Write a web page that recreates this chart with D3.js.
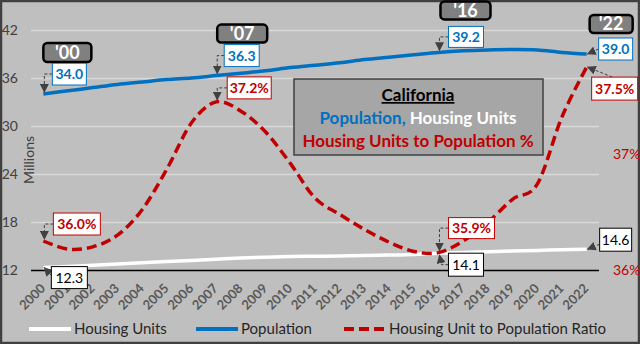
<!DOCTYPE html>
<html>
<head>
<meta charset="utf-8">
<script src="https://cdn.jsdelivr.net/npm/d3@7"></script>
<style>
  html, body { margin: 0; padding: 0; background: #bfbfbf; }
  svg { display: block; font-family: Lato, "Noto Sans", sans-serif; }
</style>
</head>
<body>
<svg id="chart" width="640" height="344"></svg>
<script>
// California: population, housing units (millions) and the housing-units-to-population ratio (%)
const years = [2000, 2001, 2002, 2003, 2004, 2005, 2006, 2007, 2008, 2009, 2010, 2011,
               2012, 2013, 2014, 2015, 2016, 2017, 2018, 2019, 2020, 2021, 2022];
const population = [34.0, 34.4, 34.8, 35.2, 35.5, 35.8, 36.0, 36.3, 36.6, 36.9, 37.3, 37.6,
                    37.9, 38.3, 38.6, 38.9, 39.2, 39.4, 39.5, 39.55, 39.5, 39.2, 39.0];
const housingUnits = [12.3, 12.45, 12.6, 12.75, 12.9, 13.05, 13.2, 13.35, 13.5, 13.6, 13.68, 13.72,
                      13.76, 13.81, 13.87, 13.95, 14.1, 14.2, 14.28, 14.37, 14.45, 14.52, 14.6];
const ratioPct = [36.0, 35.93, 35.95, 36.05, 36.27, 36.62, 37.02, 37.2, 37.12, 36.94, 36.67, 36.37,
                  36.23, 36.1, 35.99, 35.91, 35.9, 36.0, 36.16, 36.36, 36.49, 37.07, 37.5];
const leftTicks = [12, 18, 24, 30, 36, 42];
const rightTicks = [35.75, 36.75];
const labelYears = [2000, 2007, 2016, 2022];
const badgeText = ["'00", "'07", "'16", "'22"];
const seriesNames = ["Housing Units", "Population", "Housing Unit to Population Ratio"];

const C = { pop: "#0070c0", house: "#ffffff", ratio: "#c00000", axis: "#404040", grid: "#d9d9d9" };

const svg = d3.select("#chart");
svg.append("rect").attr("x", 1).attr("y", 1).attr("width", 638).attr("height", 342)
  .attr("fill", "#bfbfbf").attr("stroke", "#404040").attr("stroke-width", 2.5);

const x = d3.scalePoint().domain(years).range([31, 599]).padding(0.5);
const yL = d3.scaleLinear().domain([12, 42]).range([270, 30]);
const yR = d3.scaleLinear().domain([35.75, 37.82]).range([270, 30]);

// gridlines + left axis
const gy = svg.append("g").attr("transform", "translate(31,0)")
  .call(d3.axisLeft(yL).tickValues(leftTicks).tickSize(-568).tickFormat(d => d));
gy.select(".domain").remove();
gy.selectAll(".tick line").attr("stroke", d => d === 12 ? "#000" : C.grid)
  .attr("stroke-width", d => d === 12 ? 1.3 : 1.5);
gy.selectAll(".tick text").attr("x", -13).attr("fill", C.axis)
  .style("font-size", "14px").style("font-family", "Lato, sans-serif");

// right axis (percent)
const gr = svg.append("g").attr("transform", "translate(599,0)")
  .call(d3.axisRight(yR).tickValues(rightTicks).tickSize(0).tickFormat(d => d3.format(".0f")(d) + "%"));
gr.select(".domain").remove();
gr.selectAll(".tick text").attr("x", 14).attr("fill", C.ratio)
  .style("font-size", "14px").style("font-family", "Lato, sans-serif");

// x axis labels
const gx = svg.append("g").attr("transform", "translate(0,270)")
  .call(d3.axisBottom(x).tickSize(0).tickFormat(d => d));
gx.select(".domain").remove();
gx.selectAll(".tick text")
  .attr("text-anchor", "end").attr("fill", "#595959")
  .style("font-size", "13px").style("font-weight", "bold").style("font-family", "Lato, sans-serif")
  .attr("transform", "translate(-1,16) rotate(-45)").attr("dy", "0.35em").attr("y", 0);

// y title
svg.append("text").attr("transform", "translate(34,160) rotate(-90)")
  .attr("text-anchor", "middle").attr("fill", C.axis).style("font-size", "14px").text("Millions");

// series
const curve = d3.curveCardinal.tension(0);
const lineL = vals => d3.line().curve(curve).x((d, i) => x(years[i])).y(d => yL(d))(vals);
const lineR = vals => d3.line().curve(curve).x((d, i) => x(years[i])).y(d => yR(d))(vals);

svg.append("path").attr("d", lineL(housingUnits)).attr("fill", "none")
  .attr("stroke", C.house).attr("stroke-width", 3.5);
svg.append("path").attr("d", lineL(population)).attr("fill", "none")
  .attr("stroke", C.pop).attr("stroke-width", 3.5);
svg.append("path").attr("d", lineR(ratioPct)).attr("fill", "none")
  .attr("stroke", C.ratio).attr("stroke-width", 3.5).attr("stroke-dasharray", "10,5");

// title box
const tb = svg.append("g");
tb.append("rect").attr("x", 294).attr("y", 79).attr("width", 249).attr("height", 76)
  .attr("fill", "#a6a6a6").attr("stroke", "#404040").attr("stroke-width", 1.5);
tb.append("text").attr("x", 418).attr("y", 101).attr("text-anchor", "middle")
  .attr("fill", "#000").style("font-size", "17px").style("font-weight", "bold")
  .style("text-decoration", "underline").text("California");
const t2 = tb.append("text").attr("x", 418).attr("y", 124).attr("text-anchor", "middle")
  .style("font-size", "17px").style("font-weight", "bold");
t2.append("tspan").attr("fill", C.pop).text("Population,");
t2.append("tspan").attr("fill", "#fff").text(" Housing Units");
tb.append("text").attr("x", 418).attr("y", 147).attr("text-anchor", "middle")
  .attr("fill", C.ratio).style("font-size", "17px").style("font-weight", "bold")
  .text("Housing Units to Population %");

// callouts
const defs = svg.append("defs");
defs.append("marker").attr("id", "ah").attr("viewBox", "0 0 10 10").attr("refX", 9).attr("refY", 5)
  .attr("markerWidth", 9).attr("markerHeight", 9).attr("orient", "auto").attr("markerUnits", "userSpaceOnUse")
  .append("path").attr("d", "M0,0 L10,5 L0,10 z").attr("fill", "#404040");

// box offsets (dx, dy from point to box top-left), size, and leader style
const popBoxes = [
  { dx: 9, dy: -31, w: 34, h: 22, lead: "elbow" },
  { dx: 8, dy: -31, w: 35, h: 22, lead: "elbow" },
  { dx: 10, dy: -26, w: 35, h: 21, lead: "elbow" },
  { dx: 12, dy: -16, w: 34, h: 22, lead: "line", ax: 0, ay: 0.5 }
];
const ratioBoxes = [
  { dx: 10, dy: -28, w: 47, h: 22, lead: "elbow" },
  { dx: 11, dy: -25, w: 44, h: 22, lead: "elbow" },
  { dx: 10, dy: -35, w: 46, h: 21, lead: "elbow" },
  { dx: 5, dy: 10, w: 46, h: 23, lead: "line", ax: 0.45, ay: 0 }
];
const houseBoxes = [
  { dx: 8, dy: -1, w: 36, h: 22, lead: "line", ax: 0, ay: 0.4 },
  { dx: 10, dy: 0, w: 35, h: 23, lead: "elbowUp" },
  { dx: 13, dy: -21, w: 32, h: 23, lead: "line", ax: 0, ay: 0.7 }
];
const badgeBoxes = [
  { dx: 0, dy: -51, w: 48, h: 19 },
  { dx: 1, dy: -51, w: 50, h: 18 },
  { dx: 2, dy: -51, w: 50, h: 18 },
  { dx: 3, dy: -39, w: 43, h: 18 }
];

function callout(px, py, b, text, color, bold) {
  const bx = px + b.dx, by = py + b.dy;
  let d;
  if (b.lead === "elbow") {
    const my = by + b.h / 2;
    d = `M${bx},${my} L${px + 1},${my} L${px + 1},${py - 2}`;
  } else if (b.lead === "elbowUp") {
    const my = by + b.h / 2;
    d = `M${bx},${my} L${px + 3},${my} L${px + 1},${py + 2}`;
  } else {
    d = `M${bx + b.w * b.ax},${by + b.h * b.ay} L${px + 1},${py}`;
  }
  svg.append("path").attr("d", d).attr("fill", "none").attr("stroke", "#404040")
    .attr("stroke-width", 1).attr("stroke-dasharray", "3,2").attr("marker-end", "url(#ah)");
  svg.append("rect").attr("x", bx).attr("y", by).attr("width", b.w).attr("height", b.h)
    .attr("fill", "#fff").attr("stroke", color).attr("stroke-width", 1);
  svg.append("text").attr("x", bx + b.w / 2).attr("y", by + b.h / 2).attr("dy", "0.36em")
    .attr("text-anchor", "middle").attr("fill", color)
    .style("font-size", "14px").style("font-weight", bold ? "bold" : "normal").text(text);
}

labelYears.forEach((yr, k) => {
  const i = years.indexOf(yr);
  const px = x(yr);
  callout(px, yL(population[i]), popBoxes[k], population[i].toFixed(1), C.pop, true);
  callout(px, yR(ratioPct[i]), ratioBoxes[k], ratioPct[i].toFixed(1) + "%", C.ratio, true);
});
[2000, 2016, 2022].forEach((yr, k) => {
  const i = years.indexOf(yr);
  callout(x(yr), yL(housingUnits[i]), houseBoxes[k], housingUnits[i].toFixed(1), "#000", false);
});

// year badges
labelYears.forEach((yr, k) => {
  const i = years.indexOf(yr);
  const b = badgeBoxes[k];
  const bx = x(yr) + b.dx, by = yL(population[i]) + b.dy;
  svg.append("rect").attr("x", bx).attr("y", by).attr("width", b.w).attr("height", b.h)
    .attr("rx", 4).attr("fill", "#808080").attr("stroke", "#000").attr("stroke-width", 2.5);
  svg.append("text").attr("x", bx + b.w / 2).attr("y", by + b.h / 2).attr("dy", "0.36em")
    .attr("text-anchor", "middle").attr("fill", "#fff")
    .style("font-size", "18px").style("font-weight", "bold").text(badgeText[k]);
});

// legend
const legend = [
  { name: seriesNames[0], color: C.house, dash: null, x0: 29 },
  { name: seriesNames[1], color: C.pop, dash: null, x0: 196 },
  { name: seriesNames[2], color: C.ratio, dash: "10,5", x0: 344 }
];
legend.forEach(l => {
  svg.append("line").attr("x1", l.x0).attr("x2", l.x0 + 42).attr("y1", 329).attr("y2", 329)
    .attr("stroke", l.color).attr("stroke-width", 4).attr("stroke-dasharray", l.dash);
  svg.append("text").attr("x", l.x0 + 45).attr("y", 329).attr("dy", "0.36em")
    .attr("fill", "#262626").style("font-size", "15px").text(l.name);
});
</script>
</body>
</html>
